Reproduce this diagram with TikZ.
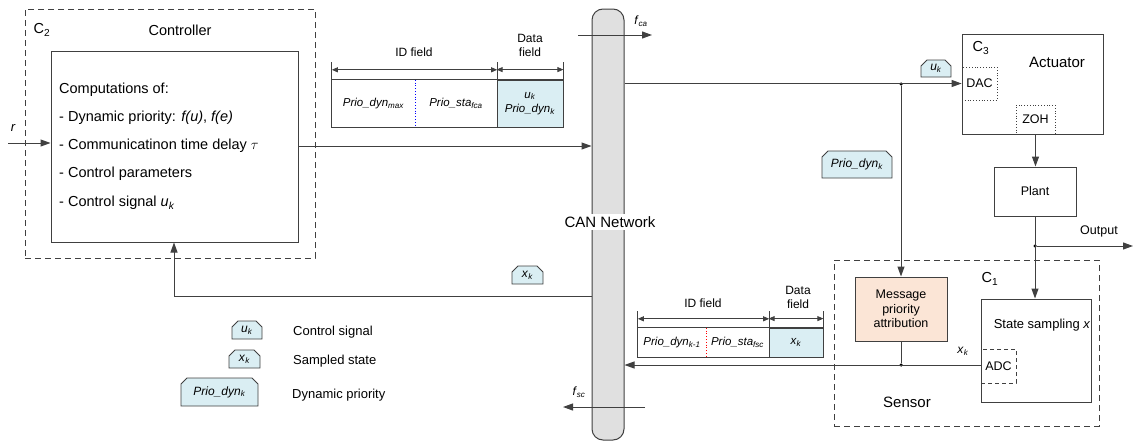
\documentclass[tikz,border=0pt]{standalone}
\usepackage{fontspec}
\setmainfont{Liberation Sans}
\usetikzlibrary{arrows.meta,shapes.misc}
\definecolor{ln}{HTML}{404040}
\definecolor{tagblue}{HTML}{DAEEF3}
\definecolor{peach}{HTML}{FBE5D6}
\definecolor{bargray}{HTML}{E0E0E0}
\newcommand{\fs}[1]{\fontsize{#1}{#1}\selectfont}
\newcommand{\ital}[2]{\textit{#1}\textsubscript{\textit{#2}}}
\tikzset{
  box/.style={draw=ln, line width=1pt, inner sep=0pt},
  dbox/.style={draw=ln, line width=1pt, dash pattern=on 6pt off 4pt, inner sep=0pt},
  sbox/.style={draw=ln, line width=0.8pt, dotted, inner sep=0pt},
  tag/.style={chamfered rectangle, chamfered rectangle corners={north west,north east},
    chamfered rectangle xsep=3pt, chamfered rectangle ysep=3pt, draw=ln, line width=0.8pt, fill=tagblue,
    inner sep=0pt, font=\fs{12}},
  conn/.style={draw=ln, line width=1pt},
  arr/.style={conn, -{Triangle[length=10pt,width=7pt]}},
  dim/.style={draw=ln, line width=0.8pt, {Triangle[length=6pt,width=5pt]}-{Triangle[length=6pt,width=5pt]}},
  tick/.style={draw=ln, line width=0.7pt},
  lbl/.style={inner sep=0pt},
  dot/.style={circle, fill=black, inner sep=0pt, minimum size=3.5pt},
  cell/.style={inner sep=0pt, font=\fs{11.5}},
}
\begin{document}
\begin{tikzpicture}[x=1pt,y=-1pt]
\useasboundingbox (0,0) rectangle (1136,442);
% Controller
\node[dbox, minimum width=290, minimum height=249] (c2) at (170,133.5) {};
\node[lbl, font=\fs{14.5}] (c2lab) at (42,30) {C\textsubscript{2}};
\node[lbl, font=\fs{14.5}] (ctrllab) at (180,30) {Controller};
\node[box, minimum width=247, minimum height=191] (ctrl) at (174.5,146.5) {};
\node[lbl, anchor=west, font=\fs{14.5}, align=left] (l1) at (59,90) {Computations of:};
\node[lbl, anchor=west, font=\fs{14.5}] (l2) at (59,118) {- Dynamic priority: \textit{f(u)}, \textit{f(e)}};
\node[lbl, anchor=west, font=\fs{14.5}] (l3) at (59,146) {- Communicatinon time delay $\tau$};
\node[lbl, anchor=west, font=\fs{14.5}] (l4) at (59,174) {- Control parameters};
\node[lbl, anchor=west, font=\fs{14.5}] (l5) at (59,203) {- Control signal \ital{u}{k}};
\coordinate (rin) at (8,143);
\node[lbl, font=\fs{13}\itshape] (rlab) at (13,128) {r};
\draw[arr] (rin) -- (rin -| ctrl.west);

% CAN bar
\node[draw=ln, line width=1pt, fill=bargray, rounded corners=11pt, minimum width=32, minimum height=431, inner sep=0pt] (bar) at (608,224.5) {};
\node[fill=white, inner sep=2pt, font=\fs{15}] (canlab) at (610,222) {CAN Network};
\coordinate (fca1) at (578,35); \coordinate (fca2) at (652,35);
\draw[arr] (fca1) -- (fca2);
\node[lbl, font=\fs{12}] (fcalab) at (641,21) {\ital{f}{ca}};
\coordinate (fsc1) at (645,407); \coordinate (fsc2) at (563,407);
\draw[arr] (fsc1) -- (fsc2);
\node[lbl, font=\fs{12}] (fsclab) at (579,392) {\ital{f}{sc}};

% Controller -> bar
\draw[arr] (ctrl.east |- 0,146) -- (bar.west |- 0,146);
% feedback
\coordinate (fbcorner) at (174,296);
\draw[arr] (bar.west |- fbcorner) -- (fbcorner) -- (ctrl.south -| fbcorner);
\node[tag, minimum width=31, minimum height=18] (xkfb) at (527.5,275) {\ital{x}{k}};

% top packet
\node[cell, minimum width=83, minimum height=47] (p1) at (373.5,103.5) {\ital{Prio\_dyn}{max}};
\node[cell, minimum width=82, minimum height=47] (p2) at (456,103.5) {\ital{Prio\_sta}{fca}};
\node[cell, draw=ln, line width=0.8pt, fill=tagblue, minimum width=66, minimum height=47, align=center] (p3) at (530,103.5) {\ital{u}{k}\\[3pt]\ital{Prio\_dyn}{k}};
\draw[draw=ln, line width=0.8pt] (p1.north west) rectangle (p3.south east);
\draw[blue, line width=0.8pt, dotted] (p1.north east) -- (p1.south east);
\draw[tick] (p1.north west) -- ++(0,-18);
\draw[tick] (p2.north east) -- ++(0,-18);
\draw[tick] (p3.north east) -- ++(0,-18);
\draw[dim] ([yshift=10]p1.north west) -- ([yshift=10]p2.north east);
\draw[dim] ([yshift=10]p3.north west) -- ([yshift=10]p3.north east);
\node[lbl, font=\fs{12}] (idf1) at (414,52) {ID field};
\node[lbl, font=\fs{12}, align=center] (df1) at (530,45) {Data\\[2pt]field};

% bottom packet
\node[cell, minimum width=68, minimum height=29] (q1) at (672,342.5) {\ital{Prio\_dyn}{k-1}};
\node[cell, minimum width=63, minimum height=29] (q2) at (737.5,342.5) {\ital{Prio\_sta}{fsc}};
\node[cell, draw=ln, line width=0.8pt, fill=tagblue, minimum width=54, minimum height=29] (q3) at (796,342.5) {\ital{x}{k}};
\draw[draw=ln, line width=0.8pt] (q1.north west) rectangle (q3.south east);
\draw[red, line width=0.8pt, dotted] (q1.north east) -- (q1.south east);
\draw[tick] (q1.north west) -- ++(0,-17);
\draw[tick] (q2.north east) -- ++(0,-17);
\draw[tick] (q3.north east) -- ++(0,-17);
\draw[dim] ([yshift=9]q1.north west) -- ([yshift=9]q2.north east);
\draw[dim] ([yshift=9]q3.north west) -- ([yshift=9]q3.north east);
\node[lbl, font=\fs{12}] (idf2) at (703,303) {ID field};
\node[lbl, font=\fs{12}, align=center] (df2) at (798,297) {Data\\[2pt]field};

% Actuator
\node[box, minimum width=141, minimum height=100] (act) at (1032.5,84) {};
\node[lbl, font=\fs{14.5}] (c3lab) at (981,48) {C\textsubscript{3}};
\node[lbl, font=\fs{15}] (actlab) at (1057,62) {Actuator};
\node[sbox, minimum width=35, minimum height=33, font=\fs{12.5}] (dac) at (979.5,83.5) {DAC};
\node[sbox, minimum width=39, minimum height=29, font=\fs{12.5}] (zoh) at (1035.5,119.5) {ZOH};
\node[box, minimum width=82, minimum height=49, font=\fs{12.5}] (plant) at (1035,191.5) {Plant};
\draw[arr] (zoh.south) -- (zoh.south |- plant.north);

% bar -> actuator
\node[dot] (d1) at (901,84) {};
\draw[arr] (bar.east |- dac.west) -- (dac.west);
\node[tag, minimum width=30, minimum height=17] (uktop) at (936,68.5) {\ital{u}{k}};
\node[tag, minimum width=70, minimum height=27] (prio) at (857,164.5) {\ital{Prio\_dyn}{k}};

% Sensor
\node[dbox, minimum width=265, minimum height=166] (c1) at (966.5,343) {};
\node[lbl, font=\fs{14.5}] (c1lab) at (990,279) {C\textsubscript{1}};
\node[box, fill=peach, minimum width=92, minimum height=64, font=\fs{12.5}, align=center] (msg) at (901,309) {Message\\[2pt]priority\\[2pt]attribution};
\node[box, minimum width=110, minimum height=103] (st) at (1036,350.5) {};
\node[lbl, font=\fs{13}] (stlab) at (1042,325) {State sampling \textit{x}};
\node[draw=ln, line width=1pt, dash pattern=on 4pt off 3pt, inner sep=0pt, minimum width=35, minimum height=34, font=\fs{12.5}] (adc) at (998.5,366) {ADC};
\node[lbl, font=\fs{12}] (xklab) at (963,351) {\ital{x}{k}};
\node[lbl, font=\fs{15}] (senslab) at (907,402) {Sensor};
\draw[arr] (d1) -- (msg.north);
\node[dot] (d2) at (901,365) {};
\draw[arr] (adc.west |- 0,365) -- (bar.east |- 0,365);
\draw[conn] (msg.south) -- (d2);

% plant -> sensor, output
\node[dot] (d3) at (1035,246) {};
\draw[arr] (plant.south) -- (plant.south |- st.north);
\coordinate (outend) at (1133,246);
\draw[arr] (d3) -- (outend);
\node[lbl, font=\fs{12.5}] (outlab) at (1099,231) {Output};

% legend
\node[tag, minimum width=30, minimum height=18] (lg1) at (247,330) {\ital{u}{k}};
\node[tag, minimum width=31, minimum height=18] (lg2) at (244.5,359) {\ital{x}{k}};
\node[tag, minimum width=77, minimum height=28] (lg3) at (219.5,392) {\ital{Prio\_dyn}{k}};
\node[lbl, anchor=west, font=\fs{13}] (lt1) at (293,332) {Control signal};
\node[lbl, anchor=west, font=\fs{13}] (lt2) at (293,361) {Sampled state};
\node[lbl, anchor=west, font=\fs{13}] (lt3) at (292,395) {Dynamic priority};
\end{tikzpicture}
\end{document}
